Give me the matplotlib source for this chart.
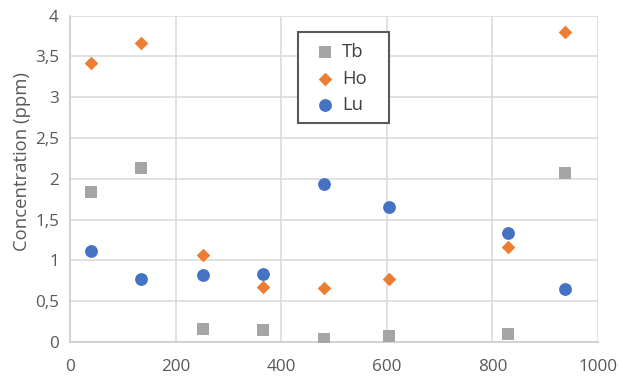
import matplotlib
matplotlib.use("Agg")
import matplotlib.pyplot as plt
from matplotlib.ticker import FuncFormatter, MultipleLocator
from matplotlib.patches import Rectangle

plt.rcParams['font.family'] = ['Open Sans', 'DejaVu Sans']

x_tb = [40, 135, 252, 366, 481, 604, 829, 938]
tb = [1.84, 2.13, 0.16, 0.145, 0.04, 0.077, 0.098, 2.07]
x_ho = [39, 135, 252, 366, 481, 604, 829, 938]
ho = [3.42, 3.67, 1.07, 0.68, 0.662, 0.768, 1.168, 3.80]
x_lu = [40, 135, 252, 366, 481, 604, 829, 938]
lu = [1.115, 0.776, 0.825, 0.833, 1.935, 1.655, 1.34, 0.653]

W, H = 623, 379
fig = plt.figure(figsize=(W/100, H/100), dpi=100)
l, r, t, b = 70, 598, 15.7, 342
ax = fig.add_axes([l/W, 1 - b/H, (r-l)/W, (b-t)/H])

def px2ax(px, py):
    return ((px - l) / (r - l), (b - py) / (b - t))

txt = '#595959'
grid = '#D9D9D9'
ax.scatter(x_tb, tb, marker='s', s=70, color='#A5A5A5', label='Tb', zorder=3, linewidths=0)
ax.scatter(x_ho, ho, marker='D', s=48, color='#ED7D31', label='Ho', zorder=3, linewidths=0)
ax.scatter(x_lu, lu, marker='o', s=85, color='#4472C4', label='Lu', zorder=3, linewidths=0)

ax.set_xlim(0, 1000)
ax.set_ylim(0, 4)
ax.xaxis.set_major_locator(MultipleLocator(200))
ax.yaxis.set_major_locator(MultipleLocator(0.5))
ax.yaxis.set_major_formatter(FuncFormatter(lambda v, p: ('%g' % v).replace('.', ',')))
ax.grid(True, color=grid, linewidth=1.1, zorder=0)
for s in ['top', 'right']:
    ax.spines[s].set_visible(False)
for s in ['left', 'bottom']:
    ax.spines[s].set_color('#D0D0D0')
    ax.spines[s].set_linewidth(1.3)
ax.tick_params(length=0, labelsize=12.3, colors=txt, pad=8)
ax.tick_params(axis='x', pad=12.5)
ax.set_ylabel('Concentration (ppm)', fontsize=13.3, color=txt)
ax.yaxis.set_label_coords(*px2ax(31, 162))

# legend box
x0, y0 = px2ax(297.5, 122.5)
x1, y1 = px2ax(388.7, 32.3)
ax.add_patch(Rectangle((x0, y0), x1 - x0, y1 - y0, transform=ax.transAxes,
                       facecolor='white', edgecolor='#595959', linewidth=1.5,
                       zorder=4, clip_on=False))

leg = ax.legend(loc='upper left', bbox_to_anchor=px2ax(311.5, 43.2), fontsize=13.3,
                frameon=False, handletextpad=0.22, borderpad=0, labelspacing=0.45,
                handlelength=1.42, borderaxespad=0, scatterpoints=1)
leg.set_zorder(5)
for tx in leg.get_texts():
    tx.set_color('#404040')

fig.savefig('out.png', dpi=100)
